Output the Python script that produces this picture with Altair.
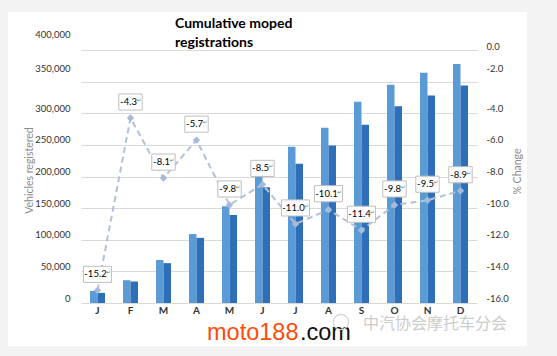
import altair as alt
import pandas as pd

# Monthly cumulative moped registrations, two years, plus year-on-year % change
months = ["J", "F", "M", "A", "M", "J", "J", "A", "S", "O", "N", "D"]
series_names = ["2012", "2013"]
reg_2012 = [19000, 36000, 68000, 109000, 153000, 200000, 247000, 277000, 318000, 345000, 364000, 378000]
reg_2013 = [16000, 34000, 63000, 103000, 139000, 183000, 220000, 249000, 282000, 311000, 328000, 344000]
pct_change = [-15.2, -4.3, -8.1, -5.7, -9.8, -8.5, -11.0, -10.1, -11.4, -9.8, -9.5, -8.9]

left_ticks = [0, 50000, 100000, 150000, 200000, 250000, 300000, 350000, 400000]
right_ticks = [0, -2, -4, -6, -8, -10, -12, -14, -16]

FONT = "Lato"
MARGIN = "#f3f3f3"
slots = list(range(len(months)))

bars_df = pd.DataFrame({
    "slot": slots * 2,
    "series": [series_names[0]] * len(slots) + [series_names[1]] * len(slots),
    "vehicles": reg_2012 + reg_2013,
})
change_df = pd.DataFrame({
    "slot": slots,
    "pct": pct_change,
    "label": [f"{v:.1f}" for v in pct_change],
})
one = pd.DataFrame({"k": [0]})

month_expr = "[" + ",".join(f"'{m}'" for m in months) + "][datum.value]"

x_enc = alt.X(
    "slot:O",
    scale=alt.Scale(paddingInner=0.545, paddingOuter=0.2725),
    axis=alt.Axis(
        title=None, labelExpr=month_expr, labelAngle=0, domain=False, ticks=False,
        labelFont=FONT, labelFontSize=10, labelFontWeight="bold", labelColor="#333333",
        labelPadding=2,
    ),
)

bars = alt.Chart(bars_df).mark_bar().encode(
    x=x_enc,
    xOffset=alt.XOffset("series:N", scale=alt.Scale(paddingInner=0, paddingOuter=0)),
    y=alt.Y(
        "vehicles:Q",
        scale=alt.Scale(domain=[0, 400000], nice=False),
        axis=alt.Axis(
            values=left_ticks, format=",d", grid=True, gridColor="#d9d9d9", gridWidth=1,
            domain=False, ticks=False, labelPadding=11,
            labelFont=FONT, labelFontSize=9.5, labelColor="#333333",
            labelOffset={"condition": [
                {"test": "datum.value == 400000", "value": -16},
                {"test": "datum.value == 350000", "value": -13},
            ], "value": -5},
            title="Vehicles registered", titleFont=FONT, titleFontSize=10.5,
            titleFontWeight="normal", titleColor="#8c8c8c",
            titleAngle=270, titleX=-52, titleY=120, titleBaseline="middle",
        ),
    ),
    color=alt.Color(
        "series:N",
        scale=alt.Scale(domain=series_names, range=["#5b9bd5", "#2e6fb8"]),
        legend=None,
    ),
)

pct_scale = alt.Scale(domain=[-16, 0], nice=False)
pct_axis = alt.Axis(
    orient="right", values=right_ticks,
    labelExpr="replace(format(datum.value, '.1f'), '\u2212', '-')",
    grid=False, domain=False, ticks=False, labelPadding=9,
    labelFont=FONT, labelFontSize=9.5, labelColor="#333333",
    labelOffset={"condition": [
        {"test": "datum.value == 0", "value": -4},
        {"test": "datum.value == -2", "value": -13},
    ], "value": -5},
    title="% Change", titleFont=FONT, titleFontSize=10.5,
    titleFontWeight="normal", titleColor="#8c8c8c",
    titleAngle=270, titleX=40, titleY=121, titleBaseline="middle",
)

x_slot = alt.X("slot:O")
y_pct = alt.Y("pct:Q", scale=pct_scale, axis=None)

line = alt.Chart(change_df).mark_line(
    color="#b3c1d6", strokeWidth=2, strokeDash=[6, 4]
).encode(
    x=x_slot,
    y=alt.Y("pct:Q", scale=pct_scale, axis=pct_axis),
)

points = alt.Chart(change_df).mark_point(
    shape="diamond", filled=True, size=55, color="#a6bbda", opacity=1
).encode(x=x_slot, y=y_pct)

LONG = "length(datum.label) > 4"
SHORT = "length(datum.label) <= 4"


def label_box(test, half_width):
    path = f"M-{half_width},-0.62L{half_width},-0.62L{half_width},0.62L-{half_width},0.62Z"
    return alt.Chart(change_df).transform_filter(test).mark_point(
        shape=path, size=676, filled=True,
        fill="white", stroke="#bfbfbf", strokeWidth=1, opacity=1, yOffset=-16,
    ).encode(x=x_slot, y=y_pct)


def return_mark(test, dx):
    # paragraph mark trailing each value label
    return alt.Chart(change_df).transform_filter(test).mark_text(
        font="DejaVu Sans", fontSize=5.5, color="#777777", yOffset=-18, dx=dx, text="↵"
    ).encode(x=x_slot, y=y_pct)


labels = alt.Chart(change_df).mark_text(
    font=FONT, fontSize=9.5, color="black", yOffset=-16, dx=-2
).encode(x=x_slot, y=y_pct, text="label:N")

# light grey page margin around the white sheet
def strip(x0, x1, y0, y1):
    return alt.Chart(one).mark_rect(fill=MARGIN).encode(
        x=alt.value(x0), x2=alt.value(x1), y=alt.value(y0), y2=alt.value(y1)
    )

margins = [
    strip(-81, 476, -50, -38),
    strip(-81, 476, 296, 306),
    strip(-81, -73, -50, 306),
    strip(446, 476, -50, 306),
]

title = alt.Chart(one).mark_text(
    align="left", baseline="middle", font=FONT, fontSize=14, fontWeight="bold",
    lineHeight=19, color="black",
).encode(x=alt.value(94), y=alt.value(-26),
         text=alt.value(["Cumulative moped", "registrations"]))

site_a = alt.Chart(one).mark_text(
    align="left", baseline="alphabetic", font="Liberation Sans", fontSize=23.5,
    color="#ff4a0a",
).encode(x=alt.value(126), y=alt.value(290), text=alt.value("moto188"))

site_b = alt.Chart(one).mark_text(
    align="left", baseline="alphabetic", font="Liberation Sans", fontSize=23.5,
    color="#111111",
).encode(x=alt.value(219), y=alt.value(290), text=alt.value(".com"))

logo = alt.Chart(one).mark_point(
    shape="circle", filled=False, size=230, color="#d2d2d2", strokeWidth=1.2, opacity=1
).encode(x=alt.value(260), y=alt.value(272))

org = alt.Chart(one).mark_text(
    align="left", baseline="middle", font="Noto Sans CJK SC", fontSize=16,
    color="#cccccc",
).encode(x=alt.value(282), y=alt.value(274), text=alt.value("中汽协会摩托车分会"))

chart = alt.layer(
    bars, line, points,
    label_box(LONG, 1.08), label_box(SHORT, 0.9),
    labels, return_mark(LONG, 11), return_mark(SHORT, 8.5),
    *margins, title, site_a, site_b, logo, org
).resolve_scale(
    y="independent"
).properties(
    width=396, height=253,
    autosize=alt.AutoSizeParams(type="none"),
    padding={"left": 81, "top": 50, "right": 80, "bottom": 53},
    background="white",
).configure_view(stroke=None)

chart.save("out.html", embed_options={"renderer": "svg", "actions": False})
